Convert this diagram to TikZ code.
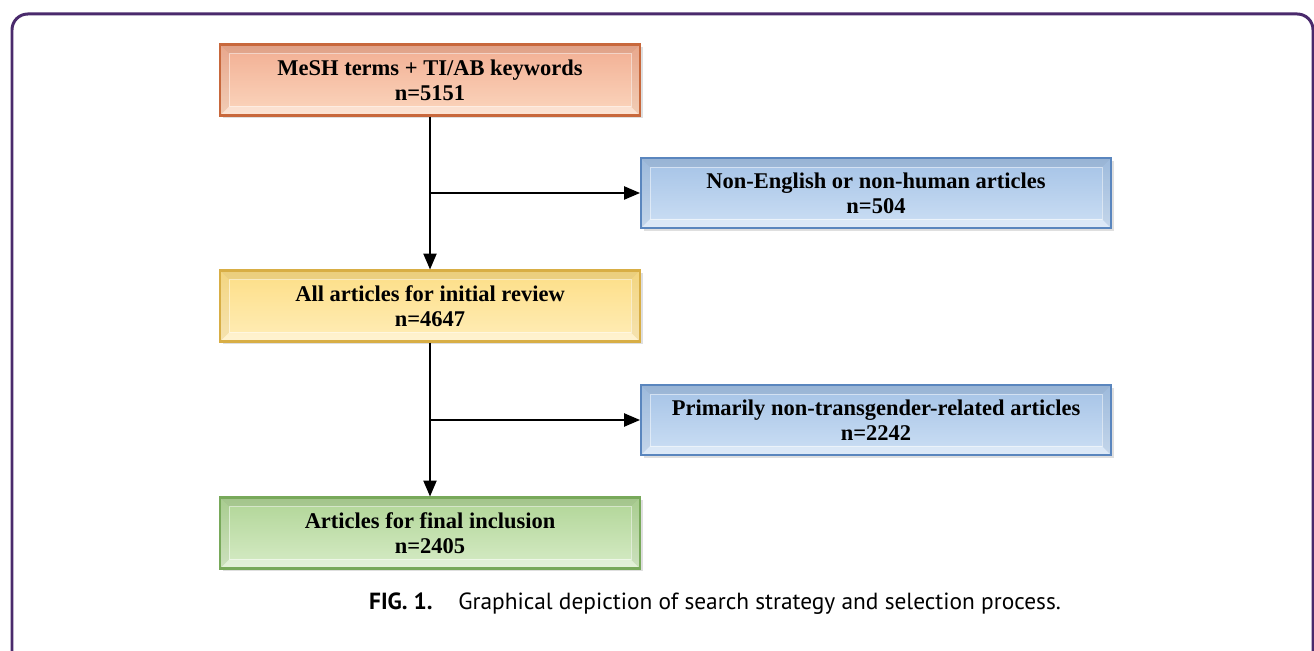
\documentclass[tikz,border=0pt]{standalone}
\usepackage{fontspec}
\setmainfont{Liberation Serif}
\newfontfamily\capfont{PT Sans}
\usepackage{xcolor}
\usetikzlibrary{arrows.meta}
\usetikzlibrary{shadows}

\definecolor{framepurple}{HTML}{4A2A6C}
\definecolor{orangetop}{HTML}{F2AE92}
\definecolor{orangebot}{HTML}{FBD6BE}
\definecolor{orangeline}{HTML}{C8683C}
\definecolor{yellowtop}{HTML}{FDDE86}
\definecolor{yellowbot}{HTML}{FFEDB8}
\definecolor{yellowline}{HTML}{D8AE45}
\definecolor{bluetop}{HTML}{A4C2E6}
\definecolor{bluebot}{HTML}{CCDFF4}
\definecolor{blueline}{HTML}{5A86BE}
\definecolor{greentop}{HTML}{B0D596}
\definecolor{greenbot}{HTML}{D6EBC6}
\definecolor{greenline}{HTML}{78A95A}

\tikzset{
  bevelbox/.style={draw=#1line, line width=1.2pt,
    top color=#1top, bottom color=#1bot,
    minimum width=8.4cm, minimum height=1.42cm,
    align=center, inner sep=0pt,
    font=\bfseries\fontsize{12.8}{14.2}\selectfont,
    drop shadow={shadow xshift=1.5pt, shadow yshift=-1.5pt, opacity=0.25},
    path picture={
      \coordinate (pNW) at (path picture bounding box.north west);
      \coordinate (pNE) at (path picture bounding box.north east);
      \coordinate (pSW) at (path picture bounding box.south west);
      \coordinate (pSE) at (path picture bounding box.south east);
      \fill[black,opacity=0.07] (pNW) -- (pNE) -- ([shift={(-9,9)}]pNE) -- ([shift={(9,9)}]pNW) -- cycle;
      \fill[white,opacity=0.35] (pSW) -- (pSE) -- ([shift={(-9,-9)}]pSE) -- ([shift={(9,-9)}]pSW) -- cycle;
      \fill[black,opacity=0.04] (pNW) -- ([shift={(9,9)}]pNW) -- ([shift={(9,-9)}]pSW) -- (pSW) -- cycle;
      \fill[black,opacity=0.04] (pNE) -- ([shift={(-9,9)}]pNE) -- ([shift={(-9,-9)}]pSE) -- (pSE) -- cycle;
      \draw[white,opacity=0.5,line width=0.5pt] ([shift={(9,9)}]pNW) rectangle ([shift={(-9,-9)}]pSE);
    }},
  sidebox/.style={bevelbox=#1, minimum width=9.4cm, minimum height=1.4cm},
  arr/.style={line width=0.8pt, -{Triangle[length=9pt,width=7.5pt]}}
}

\begin{document}
\begin{tikzpicture}[x=0.02cm, y=-0.02cm]
  \useasboundingbox (0,0) rectangle (1314,651);
  % outer frame, open at the bottom
  \draw[framepurple, line width=1.7pt, rounded corners=9pt]
    (12,660) -- (12,14) -- (1313,14) -- (1313,660);

  \node[bevelbox=orange] (mesh) at (430,80) {MeSH terms + TI/AB keywords\\n=5151};
  \node[sidebox=blue] (excl1) at (876,193) {Non-English or non-human articles\\n=504};
  \node[bevelbox=yellow] (review) at (430,306) {All articles for initial review\\n=4647};
  \node[sidebox=blue] (excl2) at (876,420) {Primarily non-transgender-related articles\\n=2242};
  \node[bevelbox=green] (final) at (430,533) {Articles for final inclusion\\n=2405};

  \draw[arr] (mesh.south) -- (review.north);
  \draw[arr] (mesh.south |- excl1.west) -- (excl1.west);
  \draw[arr] (review.south) -- (final.north);
  \draw[arr] (review.south |- excl2.west) -- (excl2.west);

  \node[font=\capfont\fontsize{13.3}{15}\selectfont] (caption) at (715,604)
    {\textbf{FIG. 1.}\hspace{1.1em}Graphical depiction of search strategy and selection process.};
\end{tikzpicture}
\end{document}
